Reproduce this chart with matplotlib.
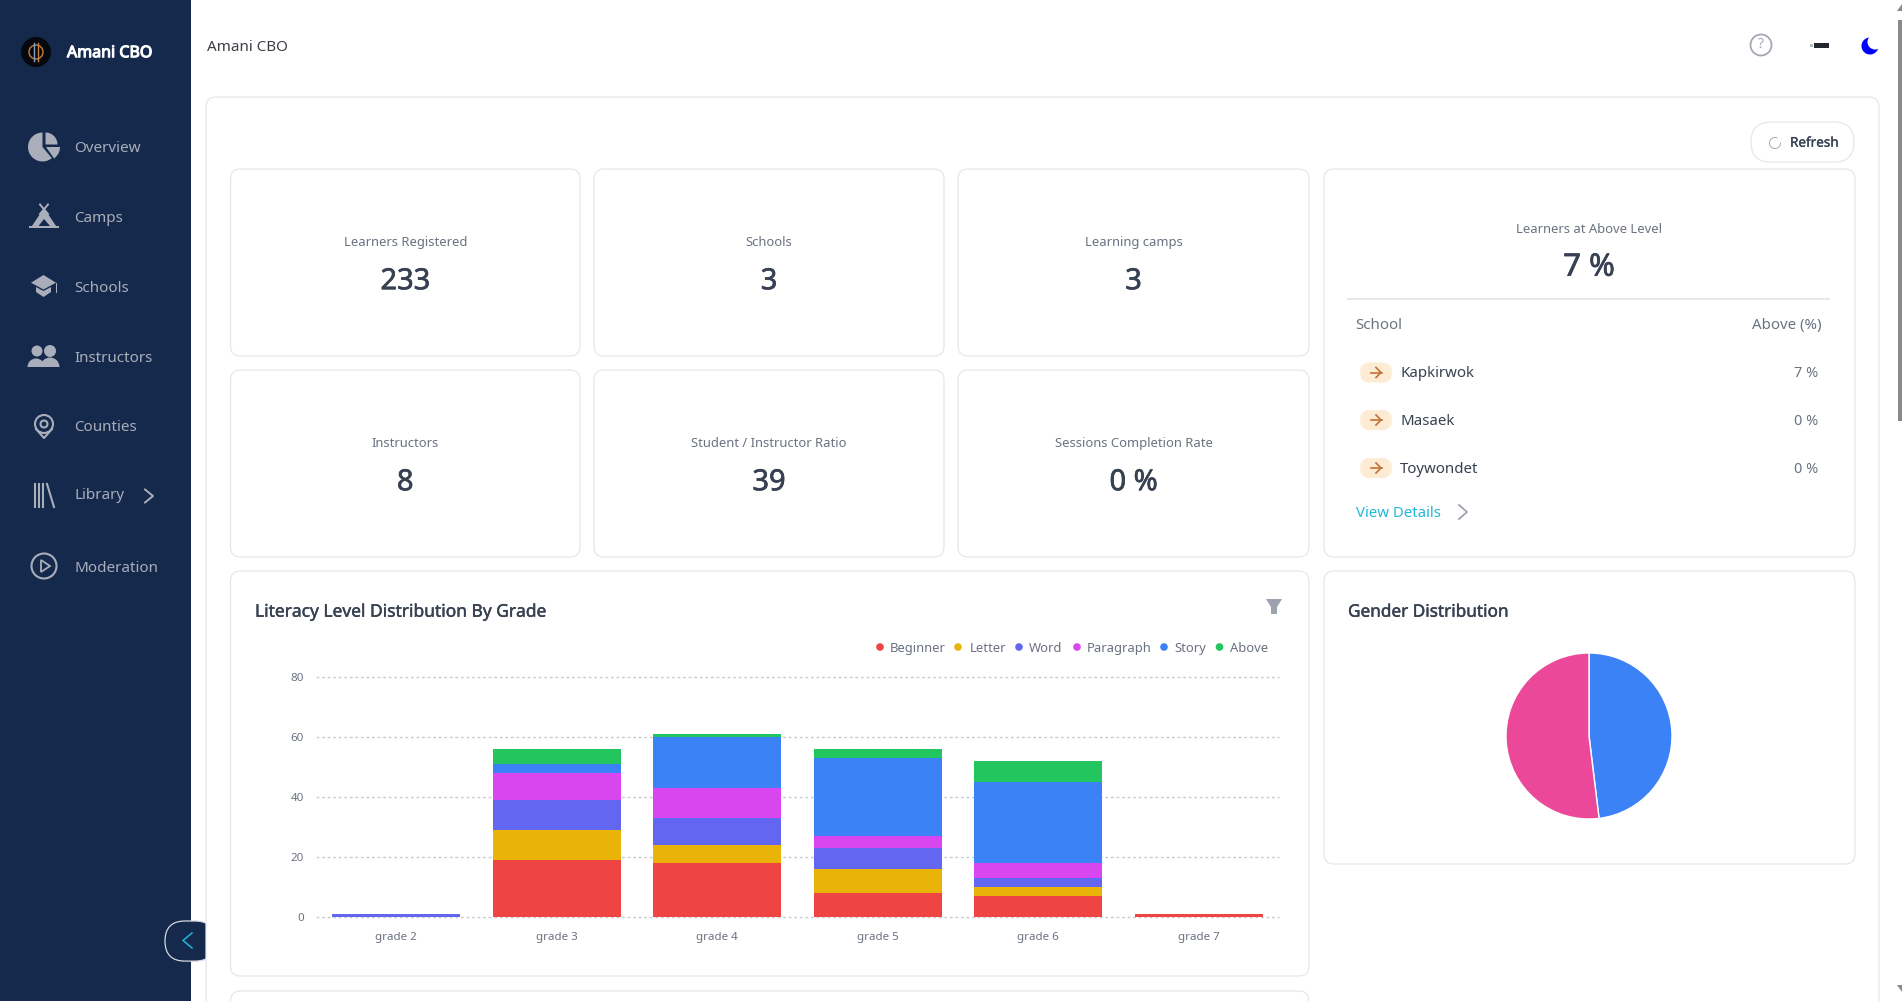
import matplotlib
matplotlib.use("Agg")
import matplotlib.pyplot as plt
import matplotlib.patheffects as pe
from matplotlib.patches import Circle, FancyBboxPatch, Polygon, Rectangle, Wedge

plt.rcParams["font.family"] = ["Noto Sans", "DejaVu Sans"]

# ===== data =====
grades = ["grade 2", "grade 3", "grade 4", "grade 5", "grade 6", "grade 7"]
levels = ["Beginner", "Letter", "Word", "Paragraph", "Story", "Above"]
beginner = [0, 19, 18, 8, 7, 1]
letter = [0, 10, 6, 8, 3, 0]
word = [1, 10, 9, 7, 3, 0]
paragraph = [0, 9, 10, 4, 5, 0]
story = [0, 3, 17, 26, 27, 0]
above = [0, 5, 1, 3, 7, 0]
level_values = [beginner, letter, word, paragraph, story, above]
level_colors = ["#ef4444", "#eab308", "#6366f1", "#d946ef", "#3b82f6", "#22c55e"]
y_ticks = [0, 20, 40, 60, 80]

gender_labels = ["Male", "Female"]
gender_counts = [112, 121]
gender_colors = ["#3b82f6", "#ec4899"]

stat_labels = ["Learners Registered", "Schools", "Learning camps",
               "Instructors", "Student / Instructor Ratio", "Sessions Completion Rate"]
stat_values = ["233", "3", "3", "8", "39", "0 %"]

schools = ["Kapkirwok", "Masaek", "Toywondet"]
school_above = ["7 %", "0 %", "0 %"]

nav_items = ["Overview", "Camps", "Schools", "Instructors", "Counties", "Library", "Moderation"]
nav_y = [147, 217, 287, 357, 426, 494, 567]

NAVY = "#14294b"
BORDER = "#e5e7eb"
DARK = "#374151"
GREY = "#6b7280"
NAV_TEXT = "#a9aeba"

W, H = 1902, 1001
fig = plt.figure(figsize=(W / 100, H / 100), dpi=100, facecolor="white")

# full size axes in pixel coordinates for the page around the charts
bg = fig.add_axes([0, 0, 1, 1])
bg.set_xlim(0, W)
bg.set_ylim(H, 0)
bg.axis("off")


def px(size):
    return size * 0.72


def card(x0, y0, x1, y1, r=10, ec=BORDER):
    bg.add_patch(FancyBboxPatch((x0 + r, y0 + r), x1 - x0 - 2 * r, y1 - y0 - 2 * r,
                                boxstyle=f"round,pad={r},rounding_size={r}",
                                fc="white", ec=ec, lw=0.9))


def label(x, y, s, size=13, color=GREY, ha="left", stroke=0):
    # y + 1.2: the centred text sits a little high otherwise
    t = bg.text(x, y + 1.2, s, fontsize=px(size), color=color, ha=ha, va="center")
    if stroke:
        # only the regular weight of the font draws, so thicken it for the headings
        t.set_path_effects([pe.withStroke(linewidth=stroke, foreground=color)])
    return t


def chevron(x, y, w, h, color, lw=1.3):
    bg.plot([x - w / 2, x + w / 2, x - w / 2], [y - h / 2, y, y + h / 2], color=color, lw=lw)


# ----- sidebar -----
bg.add_patch(Rectangle((0, 0), 191, H, fc=NAVY, ec="none"))
bg.add_patch(Circle((36, 52), 15, fc="#05080f", ec="none"))
bg.add_patch(Circle((36, 52), 7, fc="none", ec="#c9803a", lw=1))
bg.plot([34, 34], [43, 61], color="#8aa0c0", lw=1)
bg.plot([38, 38], [43, 61], color="#c9803a", lw=1)
label(67, 52, "Amani CBO", size=16, color="white", stroke=0.8)

for name, y in zip(nav_items, nav_y):
    label(74.5, y, name, size=15.2, color=NAV_TEXT)

# overview pie icon
bg.add_patch(Wedge((42.5, 147), 14.5, 50, 270, fc=NAV_TEXT, ec="none"))
bg.add_patch(Wedge((45.5, 144.5), 12, 270, 360, fc=NAV_TEXT, ec="none"))
bg.add_patch(Wedge((46, 147), 14, 0, 55, fc=NAV_TEXT, ec="none"))
# camps tent
bg.add_patch(Polygon([[32, 226], [44, 208], [56, 226]], fc=NAV_TEXT, ec="none"))
bg.add_patch(Polygon([[38.5, 226], [44, 219], [50, 226]], fc=NAVY, ec="none"))
bg.add_patch(Rectangle((29, 225.5), 30, 2.7, fc=NAV_TEXT, ec="none"))
bg.plot([40, 48], [204.5, 214], color=NAV_TEXT, lw=1.4)
bg.plot([48, 40], [204.5, 214], color=NAV_TEXT, lw=1.4)
# schools mortarboard
bg.add_patch(Polygon([[31, 282.7], [43.5, 275], [56, 282.7], [43.5, 289.5]], fc=NAV_TEXT, ec="none"))
bg.add_patch(Polygon([[36, 287], [43.5, 291], [51, 287], [51, 292], [43.5, 297], [36, 292]],
                     fc=NAV_TEXT, ec="none"))
bg.add_patch(Rectangle((55.5, 283), 1.5, 10, fc=NAV_TEXT, ec="none"))
# instructors people
bg.add_patch(Circle((37, 351), 5.5, fc=NAV_TEXT, ec="none"))
bg.add_patch(Circle((50, 351), 6, fc=NAV_TEXT, ec="none"))
bg.add_patch(Wedge((36, 367), 8.5, 180, 360, fc=NAV_TEXT, ec="none"))
bg.add_patch(Wedge((50, 367), 9.5, 180, 360, fc=NAV_TEXT, ec="none"))
# counties pin
bg.add_patch(Circle((44, 424), 9, fc="none", ec=NAV_TEXT, lw=1.5))
bg.add_patch(Circle((44, 424), 3.5, fc="none", ec=NAV_TEXT, lw=1.5))
bg.plot([36, 44, 52], [429, 438, 429], color=NAV_TEXT, lw=1.5)
# library
for lx in [35, 39, 43]:
    bg.plot([lx, lx], [484, 507], color=NAV_TEXT, lw=1.5)
bg.plot([47, 54], [484, 507], color=NAV_TEXT, lw=1.5)
chevron(149, 496, 8, 13, NAV_TEXT, lw=1.4)
# moderation
bg.add_patch(Circle((44, 566), 12.5, fc="none", ec=NAV_TEXT, lw=1.5))
bg.add_patch(Polygon([[41, 560], [50, 566], [41, 572]], fc="none", ec=NAV_TEXT, lw=1.3))

# ----- page -----
label(207, 46, "Amani CBO", size=15.2, color="#3b3f46")
bg.add_patch(Circle((1761, 45), 10.5, fc="none", ec="#a3a8b3", lw=1.3))
bg.text(1761, 45, "?", fontsize=px(14), color="#a3a8b3", ha="center", va="center")
bg.add_patch(Rectangle((1814, 43), 15, 5, fc="#23272f", ec="none"))
bg.add_patch(Rectangle((1810, 44), 3, 3, fc="#b9bcc4", ec="none"))
bg.add_patch(Wedge((1870, 46), 8.5, 0, 360, fc="#0000ff", ec="none"))
bg.add_patch(Circle((1875, 42), 7.5, fc="white", ec="none"))

# sidebar toggle, the container below hides its right end
bg.add_patch(FancyBboxPatch((185, 941), 10, 0.1, boxstyle="round,pad=20,rounding_size=20",
                            fc=NAVY, ec="#d5d8de", lw=0.9))
chevron(187.5, 940.5, -9, 15, "#22b8d8", lw=1.1)

# outer container
bg.add_patch(FancyBboxPatch((216, 107), 1653, 1000, boxstyle="round,pad=10,rounding_size=10",
                            fc="white", ec=BORDER, lw=0.9))

# refresh button
bg.add_patch(FancyBboxPatch((1771, 142), 63, 0.1, boxstyle="round,pad=20,rounding_size=20",
                            fc="white", ec=BORDER, lw=0.9))
bg.add_patch(Wedge((1775, 143), 6, 355, 295, width=0.9, fc="#9ca3af", ec="none"))
label(1790, 142, "Refresh", size=13.5, color=DARK, stroke=0.2)

# stat cards
card_x = [(230.5, 580), (594, 944), (958, 1309)]
card_y = [(169, 356), (370, 557)]
for i, (name, value) in enumerate(zip(stat_labels, stat_values)):
    x0, x1 = card_x[i % 3]
    y0, y1 = card_y[i // 3]
    card(x0, y0, x1, y1)
    xc = (x0 + x1) / 2
    label(xc, y0 + 72, name, size=13, ha="center")
    label(xc, y0 + 111.5, value, size=29, color=DARK, ha="center", stroke=0.5)

# learners at above level card
card(1324, 169, 1855, 557)
label(1589, 228, "Learners at Above Level", size=13, ha="center")
label(1589, 266.5, "7 %", size=31, color=DARK, ha="center", stroke=0.5)
bg.plot([1348, 1829], [298.5, 298.5], color=BORDER, lw=1.4)
label(1355, 324, "School", size=15, color=GREY)
label(1822, 324, "Above (%)", size=15, color=GREY, ha="right")
for name, value, y in zip(schools, school_above, [372.5, 420, 468]):
    bg.add_patch(FancyBboxPatch((1370, y), 12, 0.1, boxstyle="round,pad=10,rounding_size=10",
                                fc="#fdebd3", ec="none"))
    bg.plot([1371, 1381.5], [y, y], color="#c2703a", lw=1.2)
    chevron(1378.5, y, 5, 10, "#c2703a", lw=1.2)
    label(1400, y, name, size=15, color=DARK)
    label(1818, y, value, size=14.5, color=GREY, ha="right")
label(1356, 512, "View Details", size=15, color="#22b8d8")
chevron(1463, 512, 8, 14, "#9ca3af")

# chart cards
card(230.5, 571, 1309, 976)
card(1324, 571, 1855, 864)
card(230.5, 991, 1309, 1040)
label(255, 610.5, "Literacy Level Distribution By Grade", size=17.4, color=DARK, stroke=0.3)
label(1348, 610.5, "Gender Distribution", size=17.2, color=DARK, stroke=0.3)

# filter icon
bg.add_patch(Polygon([[1266, 599], [1282, 599], [1277, 607], [1277, 614], [1271, 614], [1271, 607]],
                     fc="#9ca3af", ec="none"))

# legend
dot_x = [880, 958, 1019, 1077, 1164, 1219.5]
text_x = [890, 970, 1029, 1086.5, 1174, 1230]
for name, color, dx, tx in zip(levels, level_colors, dot_x, text_x):
    bg.add_patch(Circle((dx, 647), 3.8, fc=color, ec="none"))
    label(tx, 647, name, size=13)

# scrollbar
bg.add_patch(Rectangle((1898, 20), 4, 401, fc="#8a8a8a", ec="none"))
bg.add_patch(Polygon([[1897, 11], [1902, 4], [1902, 11]], fc="#8a8a8a", ec="none"))
bg.add_patch(Polygon([[1897, 985], [1902, 985], [1902, 992]], fc="#8a8a8a", ec="none"))

# ----- stacked bars -----
ax = fig.add_axes([316 / W, (H - 916.7) / H, 963 / W, 239.7 / H])
x_pos = list(range(len(grades)))
bottom = [0] * len(grades)
for name, vals, color in zip(levels, level_values, level_colors):
    ax.bar(x_pos, vals, width=0.795, bottom=bottom, color=color, label=name, zorder=3)
    bottom = [b + v for b, v in zip(bottom, vals)]
ax.set_xlim(-0.5, 5.5)
ax.set_ylim(0, 80)
ax.set_xticks(x_pos)
ax.set_xticklabels(grades)
ax.set_yticks(y_ticks)
ax.patch.set_alpha(0)
for s in ax.spines.values():
    s.set_visible(False)
ax.tick_params(axis="both", length=0, labelcolor=GREY, labelsize=px(11.6))
ax.tick_params(axis="y", pad=8.5)
ax.tick_params(axis="x", pad=11)
ax.grid(axis="y", color="#c8cbd1", lw=1, linestyle=(0, (2, 2)), zorder=0)
for line in ax.get_ygridlines():
    line.set_clip_on(False)
ax.set_axisbelow(True)

# ----- gender pie -----
pie_ax = fig.add_axes([(1589 - 84) / W, (H - 736 - 84) / H, 168 / W, 168 / H])
pie_ax.pie(gender_counts, colors=gender_colors, startangle=90, counterclock=False,
           wedgeprops=dict(edgecolor="white", linewidth=1))
pie_ax.set_xlim(-1.012, 1.012)
pie_ax.set_ylim(-1.012, 1.012)

fig.savefig("out.png", dpi=100)
